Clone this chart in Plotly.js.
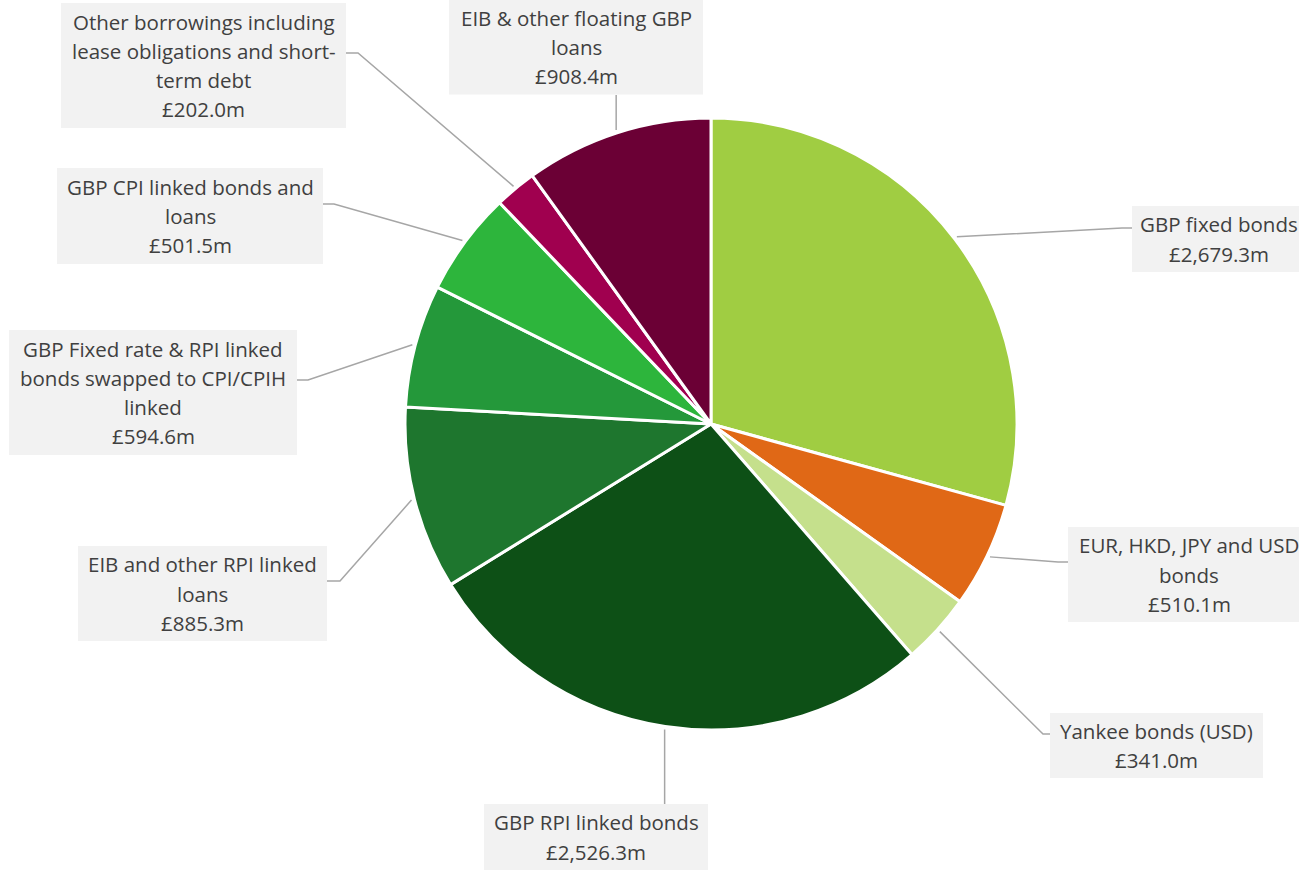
<!DOCTYPE html>
<html>
<head>
<meta charset="utf-8">
<script src="https://cdn.plot.ly/plotly-3.0.1.min.js"></script>
<style>html,body{margin:0;padding:0;background:#fff;}#chart{width:1299px;height:872px;}</style>
</head>
<body>
<div id="chart"></div>
<script>
// ---- data ----
const categories = [
  "GBP fixed bonds",
  "EUR, HKD, JPY and USD bonds",
  "Yankee bonds (USD)",
  "GBP RPI linked bonds",
  "EIB and other RPI linked loans",
  "GBP Fixed rate & RPI linked bonds swapped to CPI/CPIH linked",
  "GBP CPI linked bonds and loans",
  "Other borrowings including lease obligations and short-term debt",
  "EIB & other floating GBP loans"
];
const values = [2679.3, 510.1, 341.0, 2526.3, 885.3, 594.6, 501.5, 202.0, 908.4];
// how each category name wraps in its label box
const wrappedNames = [
  ["GBP fixed bonds"],
  ["EUR, HKD, JPY and USD", "bonds"],
  ["Yankee bonds (USD)"],
  ["GBP RPI linked bonds"],
  ["EIB and other RPI linked", "loans"],
  ["GBP Fixed rate & RPI linked", "bonds swapped to CPI/CPIH", "linked"],
  ["GBP CPI linked bonds and", "loans"],
  ["Other borrowings including", "lease obligations and short-", "term debt"],
  ["EIB & other floating GBP", "loans"]
];
const colors = ["#A0CD42", "#E06816", "#C5E08C", "#0D5016", "#1E762E", "#24983A", "#2DB53C", "#A0004F", "#6B0035"];

// ---- layout (pixel positions of label boxes & leader elbows) ----
const W = 1299, H = 872;
const CX = 711, CY = 424, R = 306;
const boxes = [ // [centerX, centerY, width, height]
  [1219, 239, 174, 66],
  [1189, 574.5, 242, 95],
  [1156.5, 745.5, 213, 65],
  [596, 837, 224, 66],
  [202.5, 593.5, 249, 95],
  [153, 392.5, 288, 125],
  [190, 216, 266, 96],
  [203.5, 65.5, 285, 125],
  [576, 47, 254, 95]
];
const leaders = [ // [elbowX, elbowY, endX, endY]
  [1122, 228, 1132, 228],
  [1058, 562, 1068, 562],
  [1043, 734, 1050, 734],
  [null, null, null, 804],
  [340, 581, 327, 581],
  [308, 380, 297, 380],
  [334, 204, 323, 204],
  [358, 53, 346, 53],
  [null, null, null, 95]
];
const LINE_H = 29.3;
const FONT = "'Open Sans', sans-serif";
const px = x => x / W;
const py = y => 1 - y / H;

function fmt(v) {
  const s = v.toFixed(1);
  const [i, d] = s.split(".");
  return "£" + i.replace(/\B(?=(\d{3})+(?!\d))/g, ",") + "." + d + "m";
}

const total = values.reduce((a, b) => a + b, 0);
const shapes = [];
const annotations = [];
let cum = 0;
values.forEach((v, k) => {
  const mid = (cum + v / 2) / total * 2 * Math.PI;
  cum += v;
  const rs = R + 3;
  const sx = CX + rs * Math.sin(mid), sy = CY - rs * Math.cos(mid);
  const L = leaders[k];
  let path;
  if (L[0] === null) {
    path = `M${px(sx)},${py(sy)} L${px(sx)},${py(L[3])}`;
  } else {
    path = `M${px(sx)},${py(sy)} L${px(L[0])},${py(L[1])} L${px(L[2])},${py(L[3])}`;
  }
  shapes.push({type: "path", xref: "paper", yref: "paper", path: path,
    line: {color: "#A6A6A6", width: 1.5}, layer: "above"});
  const b = boxes[k];
  shapes.push({type: "rect", xref: "paper", yref: "paper",
    x0: px(b[0] - b[2] / 2), x1: px(b[0] + b[2] / 2),
    y0: py(b[1] + b[3] / 2), y1: py(b[1] - b[3] / 2),
    fillcolor: "#F2F2F2", line: {width: 0}, layer: "above"});
  const lines = wrappedNames[k].concat([fmt(v)]);
  lines.forEach((t, i) => {
    const yc = b[1] + (i - (lines.length - 1) / 2) * LINE_H;
    annotations.push({xref: "paper", yref: "paper", x: px(b[0]), y: py(yc),
      xanchor: "center", yanchor: "middle", showarrow: false, text: t,
      font: {family: FONT, size: 20.5, color: "#404040"}});
  });
});

const trace = {
  type: "pie",
  labels: categories,
  values: values,
  sort: false,
  direction: "clockwise",
  rotation: 0,
  textinfo: "none",
  hoverinfo: "label+value",
  marker: {colors: colors, line: {color: "#FFFFFF", width: 3}},
  domain: {x: [px(CX - R), px(CX + R)], y: [py(CY + R), py(CY - R)]},
  showlegend: false
};

Plotly.newPlot("chart", [trace], {
  width: W, height: H,
  margin: {l: 0, r: 0, t: 0, b: 0},
  paper_bgcolor: "#FFFFFF",
  showlegend: false,
  shapes: shapes,
  annotations: annotations
}, {displayModeBar: false, staticPlot: true});
</script>
</body>
</html>
